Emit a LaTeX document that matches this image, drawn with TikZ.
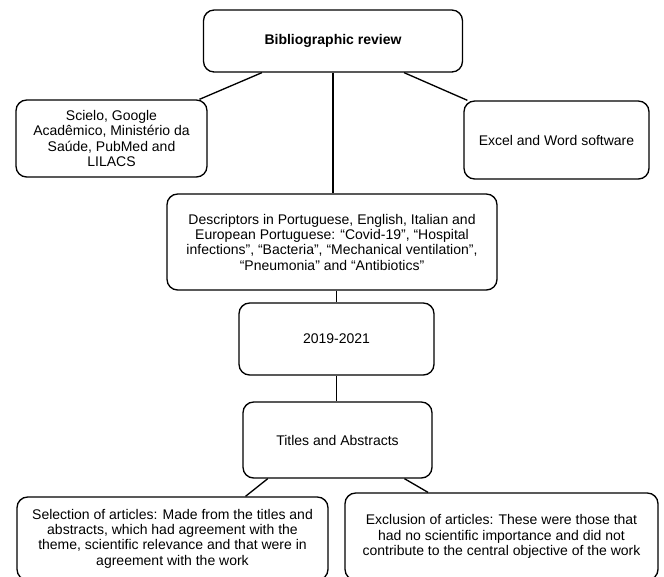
\documentclass[tikz,border=0pt]{standalone}
\usepackage{fontspec}
\setmainfont{Liberation Sans}
\usetikzlibrary{positioning, calc}

\begin{document}
\begin{tikzpicture}[
    x=0.75pt, y=-0.75pt,
    box/.style={
        rectangle,
        draw=black,
        line width=1pt,
        rounded corners=8pt,
        align=center,
        inner sep=2pt,
        font=\fontsize{10.5}{11.5}\selectfont
    },
    link/.style={line width=1pt}
]
\useasboundingbox (0,0) rectangle (664,576);

% === Top: review and its two side boxes ===
\node[box, font=\fontsize{10.5}{11.5}\selectfont\bfseries, minimum width=194.25pt, minimum height=46.5pt] (review) at (333, 41) {Bibliographic review};
\node[box, minimum width=143.25pt, minimum height=57.75pt] (sources) at (111.5, 138.5)
    {Scielo, Google\\Acadêmico, Ministério da\\Saúde, PubMed and\\LILACS};
\node[box, minimum width=138.75pt, minimum height=58.5pt] (software) at (556.5, 140) {Excel and Word software};
\draw[link] (review.204) -- (sources.24);
\draw[link] (review.336) -- (software.156.5);

% === Middle: descriptors, years, titles ===
\node[box, minimum width=247.5pt, minimum height=72pt] (descriptors) at (332, 242)
    {Descriptors in Portuguese, English, Italian and\\European Portuguese: “Covid-19”, “Hospital\\infections”, “Bacteria”, “Mechanical ventilation”,\\“Pneumonia” and “Antibiotics”};
\node[box, minimum width=146.25pt, minimum height=54pt] (years) at (336.5, 339) {2019-2021};
\node[box, minimum width=141.75pt, minimum height=57pt] (titles) at (337.5, 440) {Titles and Abstracts};
\draw[link] (review.south) -- (review.south |- descriptors.north);
\draw[link] (years.north |- descriptors.south) -- (years.north);
\draw[link] (years.south) -- (years.south |- titles.north);

% === Bottom: selection and exclusion ===
\node[box, minimum width=233.25pt, minimum height=62.25pt] (selection) at (172.5, 538.5)
    {Selection of articles: Made from the titles and\\abstracts, which had agreement with the\\theme, scientific relevance and that were in\\agreement with the work};
\node[box, minimum width=234.75pt, minimum height=65.25pt] (exclusion) at (501.5, 536.5)
    {Exclusion of articles: These were those that\\had no scientific importance and did not\\contribute to the central objective of the work};
\draw[link] (titles.209.4) -- (selection.30.5);
\draw[link] (titles.330.6) -- (exclusion.149.7);

\end{tikzpicture}
\end{document}
